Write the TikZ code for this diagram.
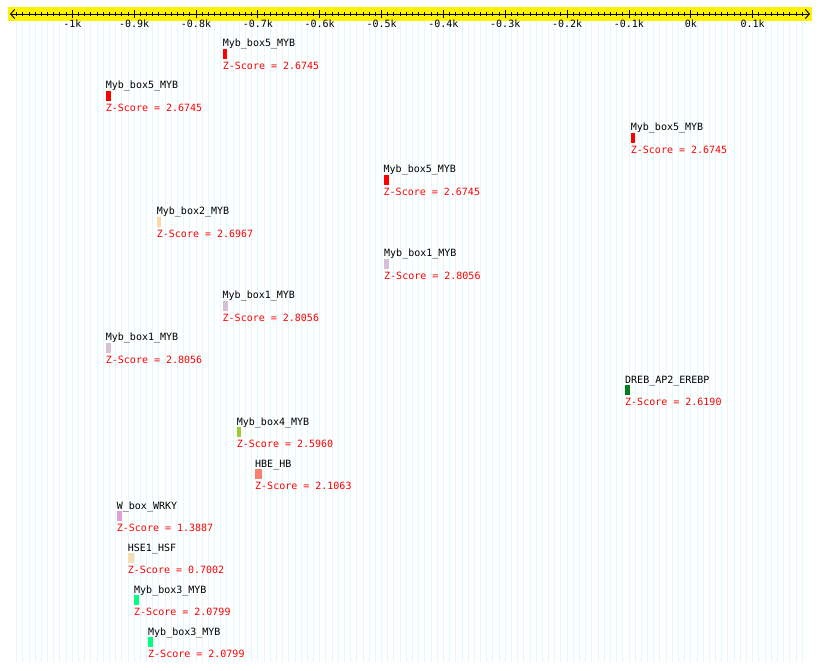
\documentclass[tikz,border=0pt]{standalone}
\usepackage{fontspec}
\newfontfamily\monofont{DejaVu Sans Mono}
\usetikzlibrary{positioning,arrows.meta}
\definecolor{ZRed}{HTML}{FF0000}
\definecolor{BoxFive}{HTML}{FF0000}
\definecolor{BoxTwo}{HTML}{FAD9A8}
\definecolor{BoxOne}{HTML}{D8BFD8}
\definecolor{DrebGreen}{HTML}{007F1F}
\definecolor{BoxFour}{HTML}{9ACD32}
\definecolor{HbeSalmon}{HTML}{FA8072}
\definecolor{WboxPlum}{HTML}{DDA0DD}
\definecolor{HseWheat}{HTML}{F5DEB3}
\definecolor{BoxThree}{HTML}{00FF7F}
\definecolor{GridCyan}{HTML}{DDFAFC}

\begin{document}
\begin{tikzpicture}[x=1pt, y=-1pt,
      lbl/.style={font=\monofont\fontsize{10}{10}\selectfont, inner sep=0pt},
      zsc/.style={lbl, text=ZRed},
      motif/.style={rectangle, inner sep=0pt, minimum height=10pt,
                    anchor=north west},
      grid line/.style={GridCyan, line width=0.9pt},
      ax/.style={{Straight Barb[length=4pt,width=9pt]}-{Straight Barb[length=4pt,width=9pt]}, line width=0.9pt},
    ]
      \fill[white] (0,0) rectangle (820,671);
      \useasboundingbox (0,0) rectangle (820,671);
      % background grid, one line per 10 bp
      \foreach \v in {-109,...,18}
        \draw[grid line] ({690.8+6.185*\v},21) -- ({690.8+6.185*\v},662);
      % ruler
      \fill[yellow] (8,7) rectangle (812,21);
      \coordinate (rs) at (10,14);
      \coordinate (re) at (810,14);
      \draw[ax] (rs) -- (re);
      \foreach \v in {-109,...,18}
        \draw[line width=0.9pt] ({690.8+6.185*\v},12) -- ++(0,4);
      \foreach \v/\t in {-10/-1k, -9/-0.9k, -8/-0.8k, -7/-0.7k, -6/-0.6k,
                         -5/-0.5k, -4/-0.4k, -3/-0.3k, -2/-0.2k, -1/-0.1k,
                         0/0k, 1/0.1k} {
        \draw[line width=0.9pt] ({690.8+61.85*\v},10.5) -- ++(0,8);
        \node[lbl, anchor=base] (t\v) at ({690.8+61.85*\v},28) {\t};
      }
      % motif hits, one row each
      \foreach \x/\w/\c/\lab/\z [count=\i from 0] in {
          222.7/4.3/BoxFive/Myb\_box5\_MYB/2.6745,
          105.7/5.0/BoxFive/Myb\_box5\_MYB/2.6745,
          630.7/3.6/BoxFive/Myb\_box5\_MYB/2.6745,
          383.5/5.0/BoxFive/Myb\_box5\_MYB/2.6745,
          156.7/4.0/BoxTwo/Myb\_box2\_MYB/2.6967,
          384.0/5.0/BoxOne/Myb\_box1\_MYB/2.8056,
          222.5/5.0/BoxOne/Myb\_box1\_MYB/2.8056,
          105.7/5.0/BoxOne/Myb\_box1\_MYB/2.8056,
          625.0/5.0/DrebGreen/DREB\_AP2\_EREBP/2.6190,
          236.7/4.0/BoxFour/Myb\_box4\_MYB/2.5960,
          255.0/6.5/HbeSalmon/HBE\_HB/2.1063,
          116.7/5.0/WboxPlum/W\_box\_WRKY/1.3887,
          127.7/6.3/HseWheat/HSE1\_HSF/0.7002,
          134.0/4.5/BoxThree/Myb\_box3\_MYB/2.0799,
          148.0/4.8/BoxThree/Myb\_box3\_MYB/2.0799} {
        \node[motif, fill=\c, minimum width=\w] (mb\i) at (\x,49+42*\i) {};
        \node[lbl, above=2pt of mb\i.north west, anchor=base west] (tf\i) {\lab};
        \node[zsc, below=10pt of mb\i.south west, anchor=base west] (zs\i)
              {Z-Score = \z};
      }
    \end{tikzpicture}
\end{document}
